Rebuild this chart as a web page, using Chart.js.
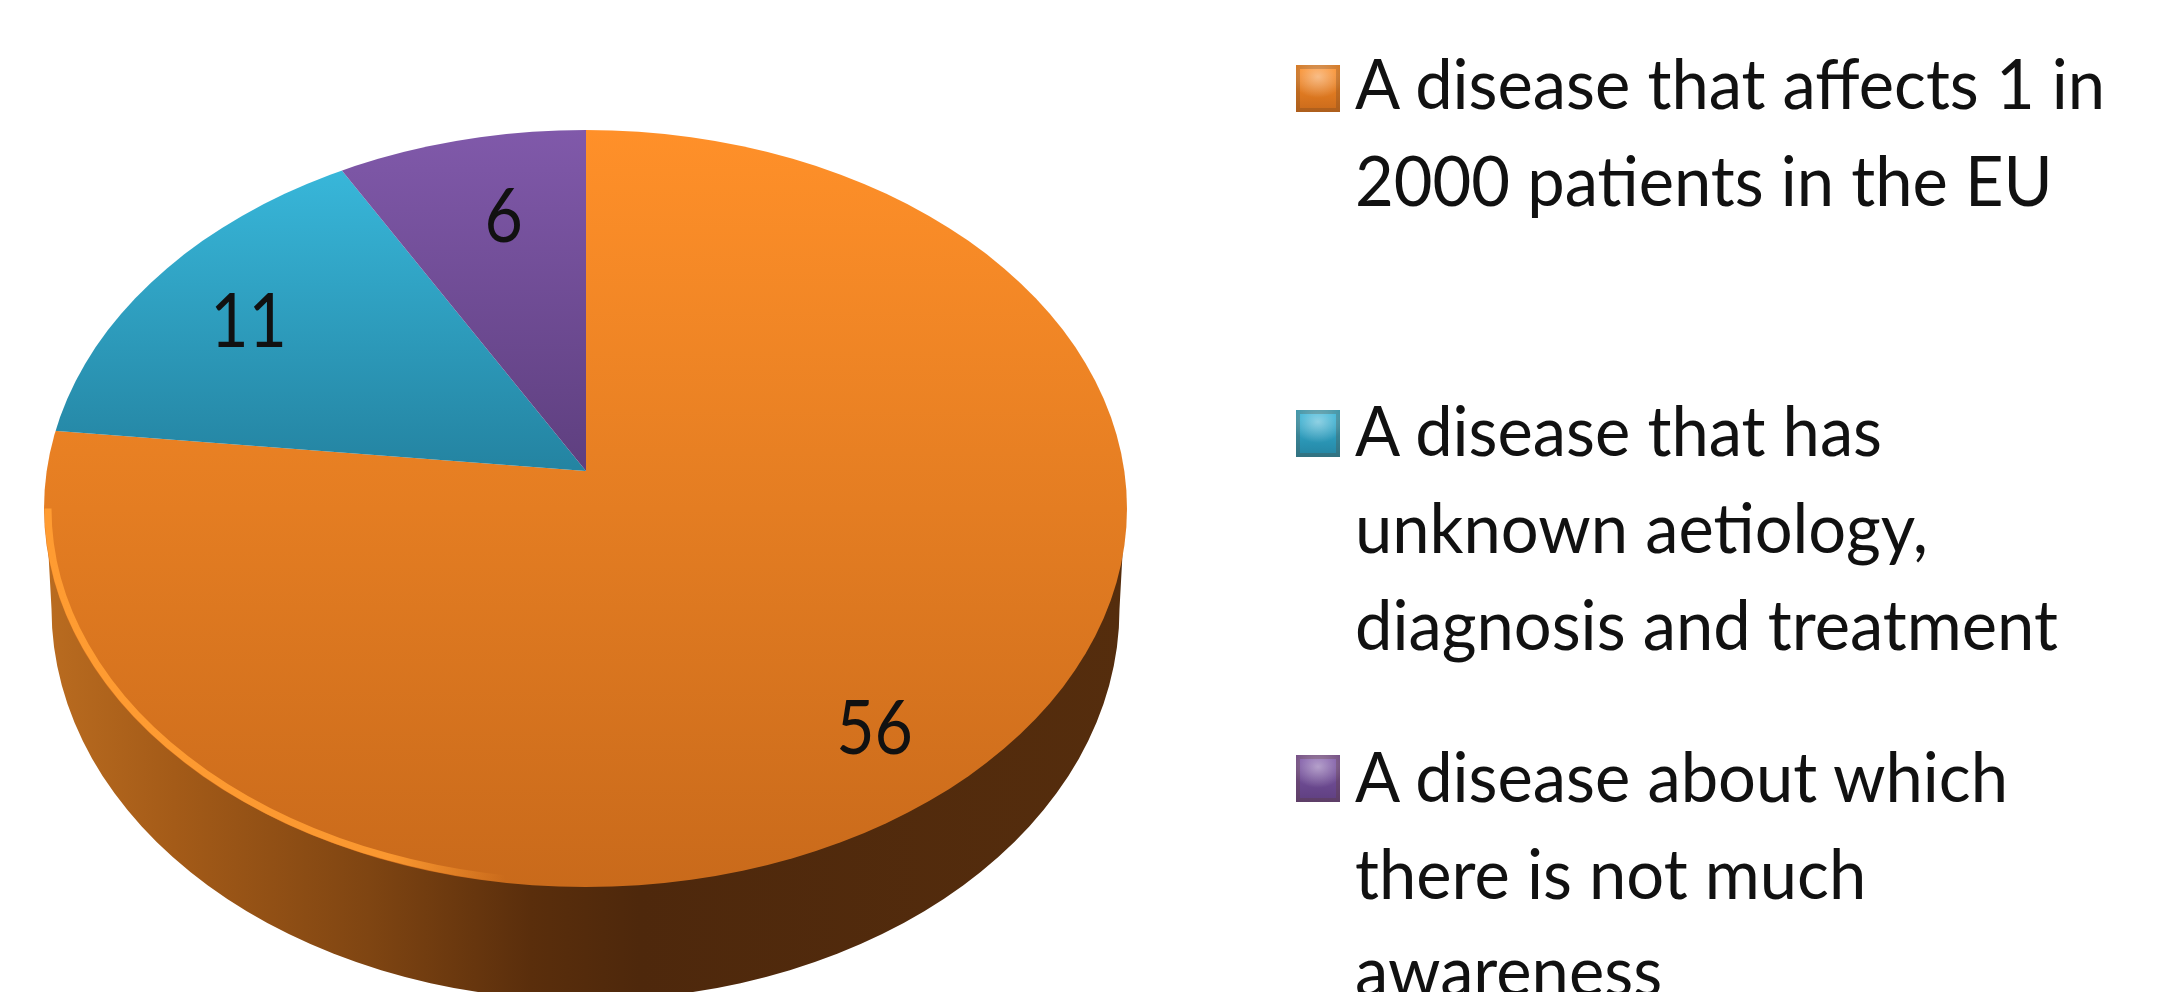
<!DOCTYPE html>
<html>
<head>
<meta charset="utf-8">
<title>Pie</title>
<script src="https://cdn.jsdelivr.net/npm/chart.js@4/dist/chart.umd.min.js"></script>
<style>
  html, body { margin: 0; padding: 0; background: #fff; overflow: hidden; }
  #wrap { position: relative; width: 2172px; height: 992px; overflow: hidden; }
  #pie { position: absolute; left: 0; top: 0; }
  .item { position: absolute; left: 1296px; }
  .swatch { position: absolute; left: 0; top: 35px; width: 44px; height: 47px; }
  .line { position: absolute; left: 59px; height: 97px; line-height: 97px; white-space: nowrap;
    font-family: Lato, sans-serif; font-size: 70px; color: #111; transform: scaleX(.955); transform-origin: left center; }
</style>
</head>
<body>
<div id="wrap">
  <canvas id="pie" width="2172" height="992"></canvas>
  <div id="legend"></div>
</div>
<script>
const categories = [
  ['A disease that affects 1 in', '2000 patients in the EU'],
  ['A disease that has', 'unknown aetiology,', 'diagnosis and treatment'],
  ['A disease about which', 'there is not much', 'awareness']
];
const seriesValues = [56, 11, 6];

const topColors = ['#ff9029', '#38b7da', '#8059aa'];
const bottomColors = ['#c96a1b', '#2484a2', '#5e3f7f'];
const sliceTops = [130, 168, 130];
const sliceBottoms = [887, 466, 471];
const labelRadius = [0.867, 0.737, 0.686];
const labelTurn = [4, -1, 2];

// pie geometry on the page
const apexX = 586, apexY = 471;
const faceX = 585.5, faceY = 508.5, faceRx = 541.5, faceRy = 378.5;
const baseY = 609, baseRx = 534, baseRy = 391;
const zoomX = 1.3, zoomY = zoomX * faceRy / faceRx;

function sourceY(y) {
  return apexY + (y - apexY) / zoomY;
}

function sliceColor(c) {
  const i = c.dataIndex;
  if (i === undefined) return topColors[0];
  const g = c.chart.ctx.createLinearGradient(0, sourceY(sliceTops[i]), 0, sourceY(sliceBottoms[i]));
  g.addColorStop(0, topColors[i]);
  g.addColorStop(1, bottomColors[i]);
  return g;
}

const pie3d = {
  id: 'pie3d',
  beforeDatasetsDraw(chart) {
    const ctx = chart.ctx;
    // wall of the pie
    ctx.save();
    const wall = ctx.createLinearGradient(faceX - faceRx, 0, faceX + faceRx, 0);
    wall.addColorStop(0, '#ba6c20');
    wall.addColorStop(0.12, '#a45b18');
    wall.addColorStop(0.3, '#7f4512');
    wall.addColorStop(0.45, '#5a2e0c');
    wall.addColorStop(0.55, '#4e280c');
    wall.addColorStop(1, '#552d0d');
    ctx.fillStyle = wall;
    ctx.beginPath();
    ctx.ellipse(faceX, baseY, baseRx, baseRy, 0, 0, Math.PI);
    ctx.lineTo(faceX - faceRx + 2, faceY);
    ctx.lineTo(faceX + faceRx - 2, faceY);
    ctx.closePath();
    ctx.fill();
    ctx.restore();

    // top face: the slices get clipped to the ellipse and flattened around the apex
    ctx.save();
    ctx.beginPath();
    ctx.ellipse(faceX, faceY, faceRx, faceRy, 0, 0, Math.PI * 2);
    ctx.clip();
    ctx.translate(apexX, apexY);
    ctx.scale(zoomX, zoomY);
    ctx.translate(-apexX, -apexY);
  },
  afterDatasetsDraw(chart) {
    const ctx = chart.ctx;
    ctx.restore();

    // light rim bottom left
    ctx.save();
    const rim = ctx.createLinearGradient(faceX - faceRx, 0, faceX - 80, 0);
    rim.addColorStop(0, 'rgba(255,156,50,1)');
    rim.addColorStop(0.75, 'rgba(255,156,50,.9)');
    rim.addColorStop(1, 'rgba(255,156,50,0)');
    ctx.strokeStyle = rim;
    ctx.lineWidth = 7;
    ctx.beginPath();
    ctx.ellipse(faceX, faceY, faceRx - 4, faceRy - 4, 0, Math.PI / 2, Math.PI);
    ctx.stroke();
    ctx.restore();

    // value labels
    const arcs = chart.getDatasetMeta(0).data;
    arcs.forEach((arc, i) => {
      const mid = (arc.startAngle + arc.endAngle) / 2 + labelTurn[i] * Math.PI / 180;
      const r = faceRx * labelRadius[i];
      const x = apexX + Math.cos(mid) * r;
      const y = apexY + Math.sin(mid) * r * faceRy / faceRx;
      ctx.save();
      ctx.translate(x, y);
      ctx.scale(0.87, 1);
      ctx.font = '76px Lato, sans-serif';
      ctx.fillStyle = '#111';
      ctx.textAlign = 'center';
      ctx.textBaseline = 'middle';
      ctx.fillText(String(seriesValues[i]), 0, 0);
      ctx.restore();
    });
  }
};

new Chart(document.getElementById('pie').getContext('2d'), {
  type: 'pie',
  data: {
    labels: categories.map(c => c.join(' ')),
    datasets: [{
      data: seriesValues,
      backgroundColor: sliceColor,
      borderWidth: 0,
      clip: false
    }]
  },
  options: {
    responsive: false,
    animation: false,
    layout: { padding: { right: 2172 - apexX * 2, bottom: 992 - apexY * 2 } },
    plugins: { legend: { display: false }, tooltip: { enabled: false } }
  },
  plugins: [pie3d]
});

const legend = document.getElementById('legend');
categories.forEach((lines, i) => {
  const item = document.createElement('div');
  item.className = 'item';
  item.style.top = (30 + i * 345) + 'px';
  const swatch = document.createElement('div');
  swatch.className = 'swatch';
  swatch.style.background = 'radial-gradient(ellipse 60% 45% at 50% 25%, rgba(255,255,255,.45), rgba(255,255,255,0)), linear-gradient(' + topColors[i] + ', ' + bottomColors[i] + ')';
  swatch.style.boxShadow = 'inset 0 0 0 4px rgba(90,60,30,.25)';
  item.appendChild(swatch);
  lines.forEach((text, j) => {
    const line = document.createElement('div');
    line.className = 'line';
    line.style.top = (4 + i * 1.5 + j * 97) + 'px';
    line.textContent = text;
    item.appendChild(line);
  });
  legend.appendChild(item);
});
</script>
</body>
</html>
